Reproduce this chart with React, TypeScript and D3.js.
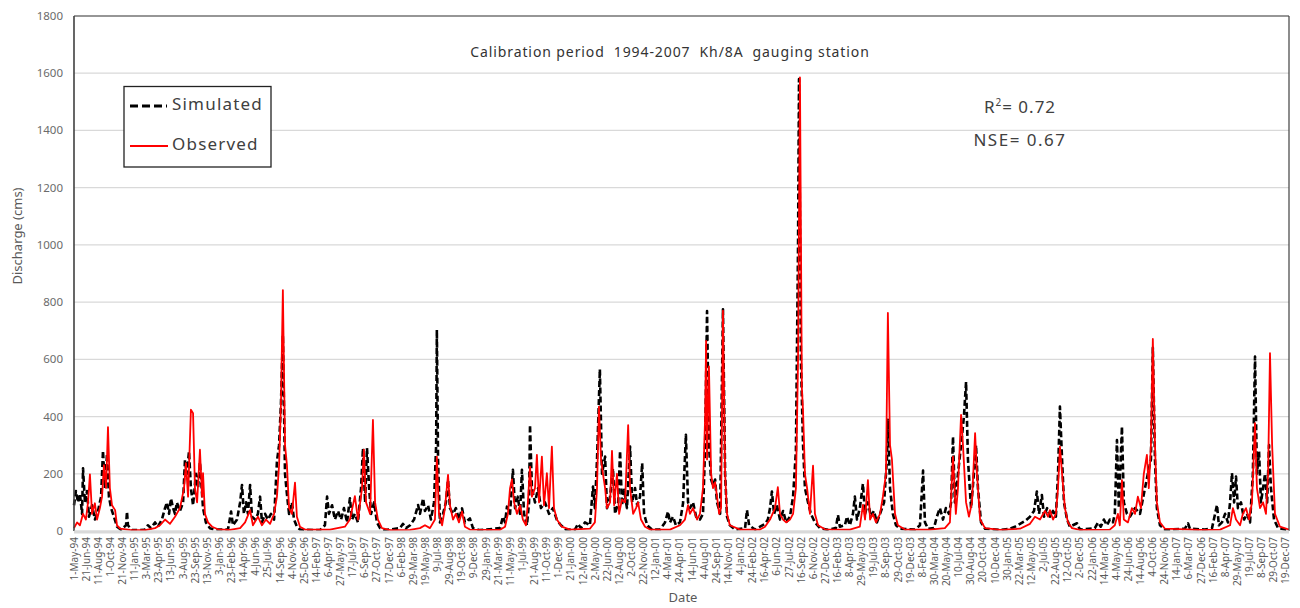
import React from 'react';
import * as d3 from 'd3';

// tick labels of the date axis (one every 51 rows of the daily table)
const dateLabels = [
  '1-May-94', '21-Jun-94', '11-Aug-94', '1-Oct-94', '21-Nov-94',
  '11-Jan-95', '3-Mar-95', '23-Apr-95', '13-Jun-95', '3-Aug-95', '23-Sep-95', '13-Nov-95',
  '3-Jan-96', '23-Feb-96', '14-Apr-96', '4-Jun-96', '25-Jul-96', '14-Sep-96', '4-Nov-96', '25-Dec-96',
  '14-Feb-97', '6-Apr-97', '27-May-97', '17-Jul-97', '6-Sep-97', '27-Oct-97', '17-Dec-97',
  '6-Feb-98', '29-Mar-98', '19-May-98', '9-Jul-98', '29-Aug-98', '19-Oct-98', '9-Dec-98',
  '29-Jan-99', '21-Mar-99', '11-May-99', '1-Jul-99', '21-Aug-99', '11-Oct-99', '1-Dec-99',
  '21-Jan-00', '12-Mar-00', '2-May-00', '22-Jun-00', '12-Aug-00', '2-Oct-00', '22-Nov-00',
  '12-Jan-01', '4-Mar-01', '24-Apr-01', '14-Jun-01', '4-Aug-01', '24-Sep-01', '14-Nov-01',
  '4-Jan-02', '24-Feb-02', '16-Apr-02', '6-Jun-02', '27-Jul-02', '16-Sep-02', '6-Nov-02', '27-Dec-02',
  '16-Feb-03', '8-Apr-03', '29-May-03', '19-Jul-03', '8-Sep-03', '29-Oct-03', '19-Dec-03',
  '8-Feb-04', '30-Mar-04', '20-May-04', '10-Jul-04', '30-Aug-04', '20-Oct-04', '10-Dec-04',
  '30-Jan-05', '22-Mar-05', '12-May-05', '2-Jul-05', '22-Aug-05', '12-Oct-05', '2-Dec-05',
  '22-Jan-06', '14-Mar-06', '4-May-06', '24-Jun-06', '14-Aug-06', '4-Oct-06', '24-Nov-06',
  '14-Jan-07', '6-Mar-07', '27-Dec-06', '16-Feb-07', '8-Apr-07', '29-May-07', '19-Jul-07',
  '8-Sep-07', '29-Oct-07', '19-Dec-07',
];
const labelStep = 51;
const totalDays = 5113;
const yTicks = [0, 200, 400, 600, 800, 1000, 1200, 1400, 1600, 1800];

// [day index, discharge cms]
const simulated: [number, number][] = [
  [0, 90], [8, 140], [17, 100], [25, 130], [34, 60], [38, 219], [46, 100], [55, 140], [63, 50], [76, 90],
  [88, 40], [101, 70], [114, 120], [122, 281], [130, 150], [139, 270], [147, 120], [156, 80], [168, 50],
  [181, 15], [198, 5], [219, 20], [223, 68], [227, 20], [244, 3], [299, 4], [311, 20], [324, 10], [341, 30],
  [353, 15], [370, 40], [383, 80], [391, 100], [400, 60], [408, 114], [417, 80], [425, 60], [433, 100],
  [446, 70], [459, 100], [467, 249], [475, 200], [484, 278], [492, 150], [501, 90], [513, 200], [522, 150],
  [530, 240], [543, 80], [555, 30], [572, 10], [593, 5], [648, 5], [661, 68], [669, 20], [686, 40], [699, 100],
  [707, 161], [715, 60], [724, 100], [732, 60], [741, 161], [749, 50], [762, 40], [774, 60], [783, 120],
  [791, 30], [804, 60], [816, 40], [829, 60], [842, 40], [854, 243], [863, 300], [871, 447], [879, 685],
  [888, 200], [896, 130], [905, 60], [917, 100], [926, 40], [938, 15], [951, 5], [1035, 3], [1056, 20],
  [1065, 120], [1073, 60], [1086, 90], [1098, 40], [1111, 70], [1124, 40], [1136, 80], [1149, 30], [1161, 114],
  [1170, 40], [1182, 60], [1195, 30], [1208, 150], [1216, 289], [1225, 100], [1233, 290], [1242, 150],
  [1250, 60], [1263, 100], [1275, 30], [1288, 10], [1309, 3], [1372, 10], [1384, 25], [1397, 10], [1414, 20],
  [1431, 40], [1448, 91], [1456, 60], [1469, 114], [1477, 70], [1490, 90], [1502, 40], [1515, 100],
  [1524, 300], [1527, 703], [1532, 250], [1540, 30], [1553, 60], [1565, 100], [1574, 178], [1582, 80],
  [1595, 60], [1607, 80], [1620, 40], [1633, 79], [1645, 30], [1666, 44], [1679, 10], [1708, 3], [1793, 10],
  [1805, 50], [1814, 30], [1822, 85], [1835, 60], [1847, 214], [1856, 80], [1868, 120], [1877, 60], [1885, 214],
  [1894, 60], [1906, 20], [1915, 100], [1919, 371], [1927, 150], [1940, 100], [1953, 150], [1965, 80],
  [1982, 100], [1999, 60], [2015, 80], [2032, 39], [2049, 20], [2070, 5], [2108, 5], [2121, 25], [2133, 10],
  [2150, 30], [2171, 20], [2184, 155], [2192, 80], [2201, 250], [2213, 565], [2222, 200], [2235, 260],
  [2243, 80], [2256, 120], [2268, 219], [2277, 60], [2290, 100], [2298, 280], [2306, 90], [2315, 144],
  [2327, 80], [2340, 295], [2349, 100], [2361, 150], [2370, 90], [2382, 120], [2391, 237], [2399, 60],
  [2412, 20], [2432, 5], [2466, 5], [2487, 30], [2500, 68], [2508, 30], [2521, 50], [2533, 20], [2550, 30],
  [2563, 97], [2575, 336], [2584, 100], [2592, 80], [2605, 100], [2618, 50], [2634, 40], [2647, 60],
  [2656, 300], [2664, 769], [2672, 300], [2681, 180], [2689, 160], [2698, 180], [2706, 100], [2719, 60],
  [2731, 775], [2740, 200], [2748, 50], [2760, 20], [2782, 5], [2824, 10], [2832, 73], [2841, 20], [2866, 5],
  [2887, 15], [2908, 25], [2920, 40], [2929, 80], [2937, 138], [2946, 60], [2958, 90], [2971, 40], [2984, 70],
  [2997, 30], [3013, 50], [3026, 120], [3038, 280], [3047, 1000], [3051, 1580], [3059, 600], [3068, 300],
  [3076, 150], [3089, 100], [3101, 60], [3118, 30], [3139, 10], [3173, 4], [3206, 10], [3215, 56], [3223, 15],
  [3244, 20], [3253, 50], [3265, 20], [3278, 60], [3286, 120], [3295, 40], [3307, 80], [3320, 165], [3329, 60],
  [3341, 100], [3354, 50], [3366, 70], [3379, 30], [3392, 60], [3409, 100], [3421, 250], [3425, 389],
  [3434, 150], [3446, 60], [3459, 20], [3476, 8], [3539, 5], [3560, 20], [3573, 211], [3581, 30], [3594, 8],
  [3619, 10], [3631, 50], [3644, 80], [3657, 40], [3669, 80], [3682, 60], [3691, 100], [3699, 330],
  [3707, 100], [3720, 200], [3733, 300], [3745, 400], [3754, 521], [3762, 250], [3775, 80], [3787, 200],
  [3796, 300], [3804, 150], [3817, 30], [3834, 8], [3897, 4], [3939, 8], [3960, 15], [3981, 25], [4002, 35],
  [4023, 50], [4040, 70], [4052, 138], [4061, 60], [4073, 126], [4082, 50], [4095, 80], [4107, 50], [4120, 70],
  [4132, 50], [4141, 200], [4149, 435], [4158, 250], [4166, 100], [4179, 40], [4191, 15], [4221, 27],
  [4233, 5], [4296, 10], [4309, 30], [4321, 15], [4334, 40], [4347, 20], [4359, 40], [4372, 30], [4380, 60],
  [4389, 318], [4397, 80], [4410, 365], [4418, 100], [4431, 60], [4444, 50], [4465, 80], [4486, 60],
  [4507, 150], [4519, 200], [4532, 250], [4540, 640], [4549, 250], [4557, 80], [4570, 20], [4591, 5],
  [4675, 8], [4688, 27], [4696, 8], [4759, 5], [4789, 10], [4810, 91], [4818, 20], [4831, 30], [4844, 60],
  [4856, 30], [4865, 100], [4873, 202], [4882, 100], [4890, 190], [4898, 80], [4911, 100], [4924, 40],
  [4936, 60], [4949, 30], [4961, 200], [4970, 610], [4978, 200], [4987, 278], [4995, 100], [5004, 150],
  [5012, 200], [5021, 100], [5029, 300], [5037, 150], [5050, 40], [5067, 10], [5113, 3],
];

const observed: [number, number][] = [
  [0, 10], [13, 30], [25, 20], [38, 60], [50, 40], [59, 100], [67, 198], [76, 60], [88, 97], [97, 40],
  [109, 80], [118, 120], [126, 230], [135, 150], [143, 363], [151, 150], [160, 90], [173, 73], [181, 20],
  [194, 8], [236, 4], [299, 3], [341, 10], [362, 20], [383, 40], [404, 25], [425, 50], [446, 80], [463, 150],
  [471, 237], [480, 120], [492, 424], [501, 412], [509, 150], [518, 100], [530, 284], [539, 120], [543, 202],
  [551, 60], [564, 30], [581, 15], [606, 6], [656, 4], [699, 10], [720, 30], [741, 73], [753, 20], [774, 50],
  [791, 20], [808, 40], [825, 25], [842, 60], [854, 120], [863, 230], [871, 450], [879, 842], [888, 300],
  [896, 231], [905, 80], [917, 60], [930, 169], [938, 50], [951, 15], [972, 5], [1077, 5], [1140, 15],
  [1161, 40], [1182, 122], [1195, 40], [1212, 150], [1220, 284], [1229, 100], [1246, 60], [1258, 388],
  [1267, 100], [1279, 40], [1296, 10], [1330, 3], [1414, 4], [1456, 10], [1477, 20], [1498, 10], [1519, 40],
  [1527, 260], [1536, 60], [1549, 20], [1561, 80], [1574, 196], [1582, 90], [1595, 40], [1607, 60],
  [1620, 30], [1633, 68], [1645, 15], [1666, 5], [1793, 4], [1814, 15], [1826, 60], [1835, 150], [1843, 180],
  [1852, 100], [1864, 60], [1877, 90], [1889, 40], [1902, 20], [1910, 100], [1919, 225], [1927, 120],
  [1940, 150], [1948, 266], [1957, 100], [1969, 260], [1978, 90], [1990, 202], [1999, 80], [2011, 295],
  [2020, 80], [2032, 40], [2053, 15], [2087, 5], [2171, 8], [2192, 30], [2201, 150], [2209, 435], [2218, 250],
  [2226, 200], [2235, 150], [2243, 80], [2256, 100], [2264, 280], [2273, 90], [2285, 200], [2294, 60],
  [2306, 110], [2319, 100], [2332, 370], [2340, 150], [2353, 60], [2365, 80], [2374, 100], [2386, 40],
  [2403, 15], [2424, 5], [2508, 5], [2550, 20], [2571, 40], [2584, 90], [2592, 60], [2605, 80], [2622, 40],
  [2634, 60], [2647, 150], [2656, 400], [2660, 664], [2664, 250], [2672, 575], [2681, 200], [2689, 150],
  [2698, 170], [2706, 120], [2715, 60], [2723, 80], [2731, 770], [2740, 200], [2748, 60], [2760, 20],
  [2803, 5], [2887, 5], [2908, 15], [2929, 40], [2950, 80], [2962, 153], [2971, 60], [2984, 40], [2997, 30],
  [3013, 40], [3026, 60], [3038, 150], [3047, 600], [3055, 1585], [3063, 500], [3068, 418], [3076, 200],
  [3085, 150], [3097, 60], [3110, 228], [3118, 60], [3131, 20], [3160, 6], [3265, 5], [3307, 15], [3320, 91],
  [3329, 40], [3341, 178], [3350, 40], [3362, 60], [3375, 30], [3392, 60], [3404, 120], [3417, 200],
  [3425, 762], [3434, 300], [3442, 251], [3455, 60], [3467, 20], [3497, 5], [3602, 5], [3665, 10], [3686, 30],
  [3699, 260], [3711, 60], [3720, 150], [3733, 406], [3741, 300], [3754, 100], [3766, 50], [3779, 100],
  [3792, 342], [3800, 200], [3813, 40], [3834, 10], [3897, 4], [3981, 8], [4023, 25], [4044, 50], [4065, 40],
  [4086, 70], [4099, 50], [4107, 73], [4120, 40], [4132, 60], [4141, 150], [4149, 295], [4158, 200],
  [4170, 80], [4183, 30], [4200, 10], [4233, 4], [4359, 5], [4380, 20], [4393, 60], [4401, 20], [4410, 178],
  [4418, 40], [4435, 30], [4452, 80], [4465, 60], [4477, 120], [4490, 80], [4502, 200], [4515, 266],
  [4523, 150], [4532, 300], [4540, 671], [4549, 300], [4557, 100], [4570, 30], [4591, 8], [4738, 4],
  [4823, 5], [4865, 20], [4877, 80], [4890, 40], [4907, 20], [4919, 60], [4932, 80], [4945, 40], [4957, 100],
  [4970, 377], [4978, 150], [4991, 80], [5004, 100], [5016, 60], [5025, 200], [5033, 622], [5042, 300],
  [5054, 60], [5075, 15], [5113, 5],
];

const font = '"Noto Sans", "Open Sans", sans-serif';

export default function App() {
  const width = 1300;
  const height = 608;
  const left = 74;
  const right = 1289;
  const top = 16;
  const bottom = 531;

  const x = d3.scaleLinear().domain([0, totalDays]).range([left, right]);
  const y = d3.scaleLinear().domain([0, 1800]).range([bottom, top]);

  const line = d3
    .line<[number, number]>()
    .x(d => x(d[0]))
    .y(d => y(d[1]));

  return (
    <svg
      width={width}
      height={height}
      style={{ position: 'absolute', left: 0, top: 0, background: '#fff' }}
      fontFamily={font}
    >
      {/* gridlines */}
      {yTicks.map(t => (
        <line key={t} x1={left} x2={right} y1={y(t)} y2={y(t)} stroke="#d9d9d9" strokeWidth={1.2} />
      ))}
      {/* y tick labels */}
      {yTicks.map(t => (
        <text key={'l' + t} x={63} y={y(t) + 4} textAnchor="end" fontSize={11.5} fill="#6b6b6b">
          {t}
        </text>
      ))}

      <path d={line(simulated) ?? ''} fill="none" stroke="#000" strokeWidth={2.6} strokeDasharray="6,3" strokeLinejoin="round" />
      <path d={line(observed) ?? ''} fill="none" stroke="#ff0000" strokeWidth={1.8} strokeLinejoin="round" />

      {/* plot frame */}
      <line x1={left} x2={left} y1={top} y2={bottom} stroke="#404040" strokeWidth={1.6} />
      <line x1={left} x2={right} y1={top} y2={top} stroke="#404040" strokeWidth={1.2} />
      <line x1={right} x2={right} y1={top} y2={bottom} stroke="#404040" strokeWidth={1.2} />
      <line x1={left} x2={right} y1={bottom + 1} y2={bottom + 1} stroke="#d9d9d9" strokeWidth={3} />

      {/* x tick labels */}
      {dateLabels.map((lab, i) => (
        <text
          key={lab + i}
          transform={`translate(${x(i * labelStep) + 3.5},${537}) rotate(-90)`}
          textAnchor="end"
          fontSize={10}
          fill="#595959"
        >
          {lab}
        </text>
      ))}

      {/* axis titles */}
      <text x={683} y={602} textAnchor="middle" fontSize={13} fill="#595959">Date</text>
      <text transform="translate(22,236) rotate(-90)" textAnchor="middle" fontSize={13} fill="#595959">
        Discharge (cms)
      </text>

      {/* title */}
      <text x={670} y={57} textAnchor="middle" fontSize={14} letterSpacing={0.9} fill="#333" style={{ whiteSpace: 'pre' }}>
        {'Calibration period  1994-2007  Kh/8A  gauging station'}
      </text>

      {/* statistics */}
      <text x={1020} y={113} textAnchor="middle" fontSize={17} letterSpacing={1} fill="#404040">
        R<tspan dy={-7} fontSize={10}>2</tspan>
        <tspan dy={7}>= 0.72</tspan>
      </text>
      <text x={1020} y={146} textAnchor="middle" fontSize={17} letterSpacing={1.5} fill="#404040">NSE= 0.67</text>

      {/* legend */}
      <rect x={124} y={86.5} width={147} height={80.5} fill="#fff" stroke="#222" strokeWidth={1.3} />
      <line x1={130} x2={167} y1={106} y2={106} stroke="#000" strokeWidth={3} strokeDasharray="8,4" />
      <text x={172} y={110} fontSize={17} letterSpacing={1.2} fill="#404040">Simulated</text>
      <line x1={130} x2={168} y1={146} y2={146} stroke="#ff0000" strokeWidth={1.8} />
      <text x={172} y={150} fontSize={17} letterSpacing={1.2} fill="#404040">Observed</text>
    </svg>
  );
}
